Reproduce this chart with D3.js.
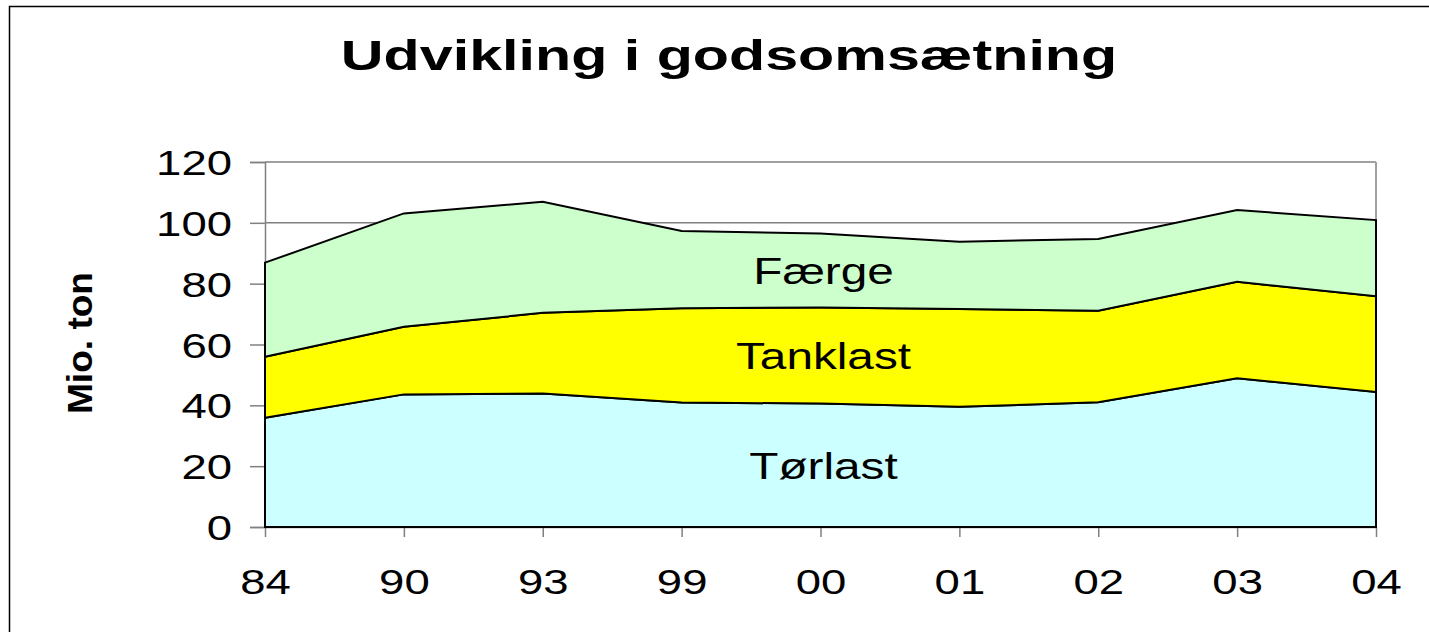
<!DOCTYPE html>
<html>
<head>
<meta charset="utf-8">
<script src="https://cdn.jsdelivr.net/npm/d3@7"></script>
<style>
  html, body { margin: 0; padding: 0; background: #fff; }
  svg { display: block; font-family: "Liberation Sans", Arial, sans-serif; }
</style>
</head>
<body>
<div id="chart"></div>
<script>
// data (Mio. ton per year)
const years = ['84', '90', '93', '99', '00', '01', '02', '03', '04'];
const toerlast = [35.9, 43.6, 43.9, 40.9, 40.6, 39.5, 41.0, 48.9, 44.4];
const tanklast = [20.1, 22.2, 26.5, 31.0, 31.6, 32.2, 30.1, 31.7, 31.5];
const faerge = [30.9, 37.3, 36.5, 25.4, 24.3, 22.1, 23.6, 23.6, 25.0];
const seriesNames = ['Tørlast', 'Tanklast', 'Færge'];
const seriesColors = ['#ccffff', '#ffff00', '#ccffcc'];
const yTicks = [0, 20, 40, 60, 80, 100, 120];
const labelYear = '00';

const width = 1429;
const height = 632;
const margin = { t: 162, r: 53, l: 265, b: 105 };
const stretch = 1.3;

const rows = years.map((y, i) => ({
  year: y,
  'Tørlast': toerlast[i],
  'Tanklast': tanklast[i],
  'Færge': faerge[i],
}));

const svg = d3.select('#chart').append('svg')
  .attr('width', width)
  .attr('height', height)
  .attr('viewBox', [0, 0, width, height]);

svg.append('rect')
  .attr('width', width).attr('height', height)
  .attr('fill', '#fff');

// outer chart border (runs off the right and bottom edge)
svg.append('rect')
  .attr('x', 9.5).attr('y', 6.5)
  .attr('width', width + 20).attr('height', height + 20)
  .attr('fill', 'none')
  .attr('stroke', '#000')
  .attr('stroke-width', 1.5);

const x = d3.scalePoint()
  .domain(years)
  .range([margin.l, width - margin.r]);

const y = d3.scaleLinear()
  .domain([0, 120])
  .range([height - margin.b, margin.t]);

// gridlines + plot frame
svg.append('g')
  .selectAll('line')
  .data(yTicks.slice(1))
  .join('line')
  .attr('x1', margin.l).attr('x2', width - margin.r)
  .attr('y1', d => y(d)).attr('y2', d => y(d))
  .attr('stroke', '#808080')
  .attr('stroke-width', 1.5);

svg.append('line')
  .attr('x1', width - margin.r).attr('x2', width - margin.r)
  .attr('y1', y(120)).attr('y2', y(0))
  .attr('stroke', '#a0a0a0')
  .attr('stroke-width', 2);

// axes
const axisY = svg.append('g')
  .attr('transform', `translate(${margin.l},0)`)
  .call(d3.axisLeft(y).tickValues(yTicks).tickSize(15).tickPadding(18));

const axisX = svg.append('g')
  .attr('transform', `translate(0,${y(0)})`)
  .call(d3.axisBottom(x).tickSize(10).tickSizeOuter(0));

[axisY, axisX].forEach(g => {
  g.selectAll('.domain, line')
    .attr('stroke', '#808080')
    .attr('stroke-width', 1.5);
  g.selectAll('text')
    .attr('font-size', 35)
    .attr('fill', '#000')
    .attr('font-family', '"Liberation Sans", Arial, sans-serif');
});

axisY.selectAll('text')
  .each(function () {
    const t = d3.select(this);
    const tx = +t.attr('x');
    t.attr('x', 0)
      .attr('dy', '0.36em')
      .attr('transform', `translate(${tx},0) scale(${stretch},1)`);
  });

axisX.selectAll('text')
  .attr('y', 0)
  .attr('dy', 0)
  .attr('transform', `translate(0,67) scale(${stretch},1)`);

// stacked areas
const stack = d3.stack().keys(seriesNames);
const layers = stack(rows);

const area = d3.area()
  .x(d => x(d.data.year))
  .y0(d => y(d[0]))
  .y1(d => y(d[1]));

svg.append('g')
  .selectAll('path')
  .data(layers)
  .join('path')
  .attr('d', area)
  .attr('fill', (_, i) => seriesColors[i])
  .attr('stroke', '#000')
  .attr('stroke-width', 2)
  .attr('stroke-linejoin', 'miter');

// series labels in the middle of each band
const li = years.indexOf(labelYear);
svg.append('g')
  .selectAll('text')
  .data(layers)
  .join('text')
  .attr('text-anchor', 'middle')
  .attr('dy', '0.36em')
  .attr('font-size', 37)
  .attr('fill', '#000')
  .attr('transform', d => {
    const v = d[li];
    return `translate(${x(labelYear) + 3},${y((v[0] + v[1]) / 2)}) scale(1.29,1)`;
  })
  .text(d => d.key);

// title
svg.append('text')
  .attr('text-anchor', 'middle')
  .attr('font-size', 42)
  .attr('font-weight', 'bold')
  .attr('transform', 'translate(729,70) scale(1.41,1)')
  .text('Udvikling i godsomsætning');

// y axis title
svg.append('text')
  .attr('text-anchor', 'middle')
  .attr('font-size', 35)
  .attr('font-weight', 'bold')
  .attr('textLength', 142)
  .attr('lengthAdjust', 'spacingAndGlyphs')
  .attr('transform', 'translate(92,343) rotate(-90)')
  .text('Mio. ton');
</script>
</body>
</html>
